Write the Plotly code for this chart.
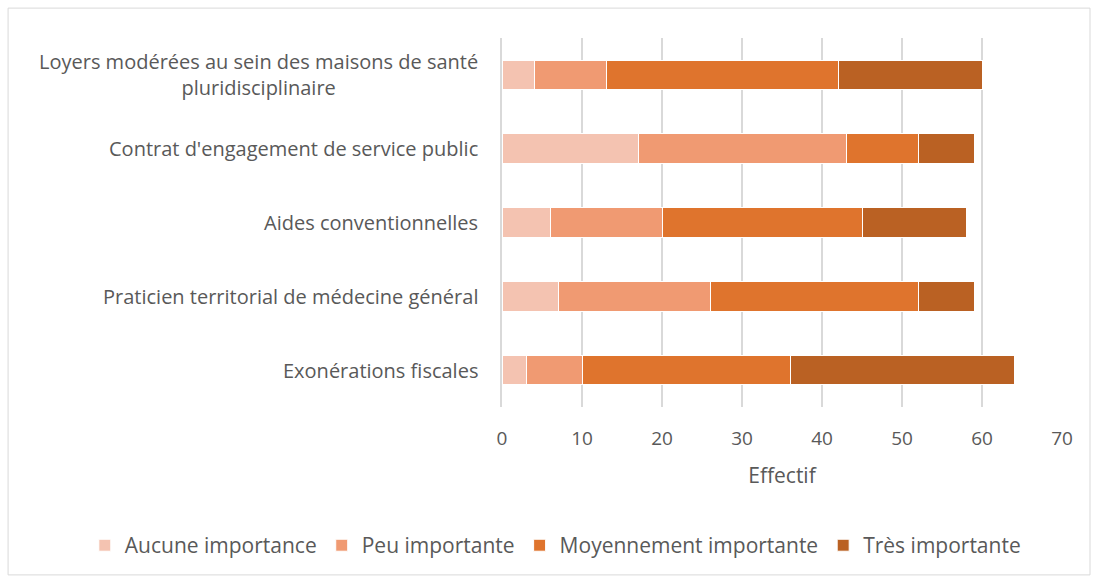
import plotly.graph_objects as go

categories = [
    "Loyers modérées au sein des maisons de santé<br>pluridisciplinaire",
    "Contrat d'engagement de service public",
    "Aides conventionnelles",
    "Praticien territorial de médecine général",
    "Exonérations fiscales",
]
aucune = [4, 17, 6, 7, 3]
peu = [9, 26, 14, 19, 7]
moyen = [29, 9, 25, 26, 26]
tres = [18, 7, 13, 7, 28]

series = [
    ("Aucune importance", aucune, "#F4C3B1"),
    ("Peu importante", peu, "#F09A72"),
    ("Moyennement importante", moyen, "#DF742D"),
    ("Très importante", tres, "#BA6123"),
]

FONT = "Open Sans, Liberation Sans, sans-serif"
GREY = "#595959"

fig = go.Figure()
for name, vals, col in series:
    fig.add_trace(go.Bar(
        name=name, y=categories, x=vals, orientation="h",
        marker=dict(color=col, line=dict(color="white", width=1)),
    ))

# category labels as centered multi-line annotations
annotations = [
    dict(text=c, x=-0.04, y=c, xref="paper", yref="y", xanchor="right",
         yanchor="middle", align="center", showarrow=False,
         font=dict(family=FONT, size=20, color=GREY))
    for c in categories
]

fig.update_layout(
    barmode="stack",
    bargap=0.6,
    width=1098, height=583,
    margin=dict(l=502, r=36, t=38, b=176, autoexpand=False),
    paper_bgcolor="white", plot_bgcolor="white",
    font=dict(family=FONT, size=20, color=GREY),
    annotations=annotations,
    xaxis=dict(
        range=[0, 70], dtick=10, showgrid=True, gridcolor="#D9D9D9",
        gridwidth=1.5, zeroline=False, ticks="", ticklabelstandoff=18,
        tickfont=dict(size=19, color=GREY),
        title=dict(text="Effectif", font=dict(size=21, color=GREY), standoff=18),
    ),
    yaxis=dict(
        autorange="reversed", showticklabels=False, showline=True,
        linecolor="#D9D9D9", linewidth=1.5, ticks="",
    ),
    legend=dict(
        orientation="h", x=-0.745, xanchor="left", y=-0.32, yanchor="top",
        font=dict(size=21, color=GREY), traceorder="normal",
    ),
    shapes=[dict(type="rect", xref="paper", yref="paper",
                 x0=-0.882, x1=1.05, y0=-0.455, y1=1.081,
                 line=dict(color="#D9D9D9", width=1))],
)

fig.write_html("out.html")
